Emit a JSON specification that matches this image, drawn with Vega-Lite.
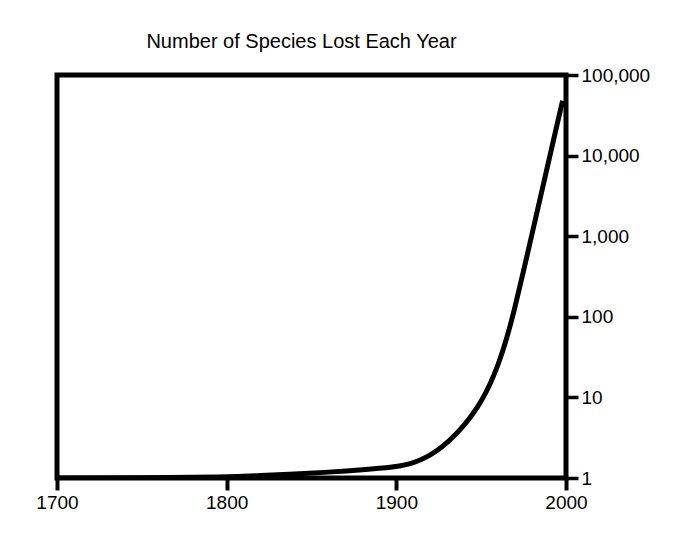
{
  "$schema": "https://vega.github.io/schema/vega-lite/v6.json",
  "width": 509,
  "height": 403,
  "autosize": {"type": "none"},
  "padding": {"left": 57, "top": 75, "right": 118, "bottom": 62},
  "background": "white",
  "title": {
    "text": "Number of Species Lost Each Year",
    "font": "Liberation Sans",
    "fontSize": 20,
    "fontWeight": "normal",
    "color": "black",
    "anchor": "middle",
    "dx": -10,
    "offset": 14
  },
  "config": {
    "view": {"stroke": "black", "strokeWidth": 5},
    "axis": {
      "labelFont": "Liberation Sans",
      "labelColor": "black",
      "tickColor": "black",
      "grid": false,
      "domain": false,
      "title": null
    }
  },
  "data": {
    "values": [
      {"year": 1700, "species": 1},
      {"year": 1750, "species": 1},
      {"year": 1800, "species": 1.03},
      {"year": 1820, "species": 1.07},
      {"year": 1840, "species": 1.12},
      {"year": 1860, "species": 1.18},
      {"year": 1880, "species": 1.26},
      {"year": 1900, "species": 1.38},
      {"year": 1905, "species": 1.45},
      {"year": 1910, "species": 1.55},
      {"year": 1915, "species": 1.7},
      {"year": 1920, "species": 1.93},
      {"year": 1925, "species": 2.26},
      {"year": 1930, "species": 2.75},
      {"year": 1935, "species": 3.47},
      {"year": 1940, "species": 4.52},
      {"year": 1945, "species": 6.17},
      {"year": 1950, "species": 8.91},
      {"year": 1955, "species": 14.1},
      {"year": 1960, "species": 25.1},
      {"year": 1965, "species": 52.5},
      {"year": 1970, "species": 132},
      {"year": 1975, "species": 372},
      {"year": 1980, "species": 1070},
      {"year": 1985, "species": 3090},
      {"year": 1990, "species": 8910},
      {"year": 1995, "species": 25700},
      {"year": 1998, "species": 47900}
    ]
  },
  "mark": {"type": "line", "color": "black", "strokeWidth": 5, "interpolate": "basis", "clip": true},
  "encoding": {
    "x": {
      "field": "year",
      "type": "quantitative",
      "scale": {"domain": [1700, 2000], "nice": false, "zero": false},
      "axis": {
        "orient": "bottom",
        "values": [1700, 1800, 1900, 2000],
        "format": "d",
        "tickSize": 12,
        "tickWidth": 4,
        "labelFontSize": 19,
        "labelPadding": 3,
        "labelFlush": false
      }
    },
    "y": {
      "field": "species",
      "type": "quantitative",
      "scale": {"type": "log", "domain": [1, 100000], "nice": false},
      "axis": {
        "orient": "right",
        "values": [1, 10, 100, 1000, 10000, 100000],
        "format": ",",
        "tickSize": 12,
        "tickWidth": 3.5,
        "labelFontSize": 19,
        "labelPadding": 3,
        "labelFlush": false,
        "labelBaseline": "middle"
      }
    }
  }
}
